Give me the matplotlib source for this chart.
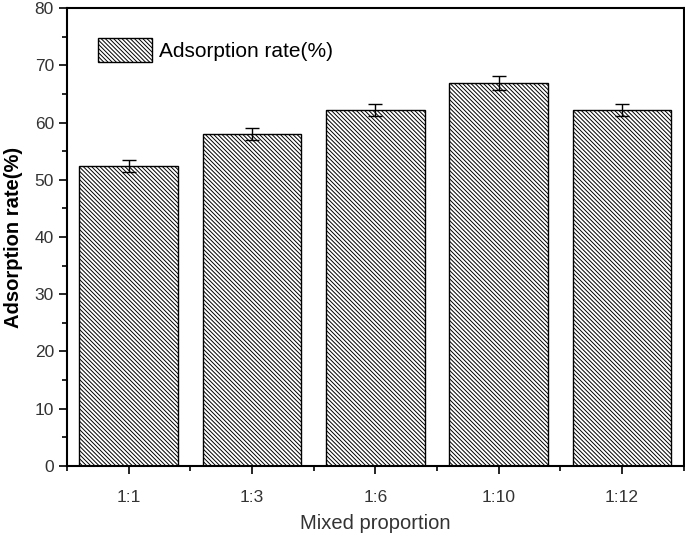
import matplotlib.pyplot as plt
from matplotlib.ticker import MultipleLocator, FixedLocator

plt.rcParams['font.family'] = ['Liberation Sans', 'DejaVu Sans']
plt.rcParams['hatch.linewidth'] = 0.7

categories = ['1:1', '1:3', '1:6', '1:10', '1:12']
rates = [52.4, 58.0, 62.2, 66.9, 62.2]
errors = [1.1, 1.1, 1.1, 1.2, 1.1]

fig = plt.figure(figsize=(6.85, 5.35), dpi=100)
ax = fig.add_axes([0.098, 0.129, 0.9, 0.856])

x = list(range(len(categories)))
ax.bar(x, rates, width=0.8, color='white', edgecolor='black', linewidth=1.0,
       hatch='\\' * 8, label='Adsorption rate(%)')
ax.errorbar(x, rates, yerr=errors, fmt='none', ecolor='black', elinewidth=1.0,
            capsize=5, capthick=1.0)

ax.set_xlim(-0.5, 4.5)
ax.set_ylim(0, 80)
ax.set_xticks(x)
ax.set_xticklabels(categories)
ax.xaxis.set_minor_locator(FixedLocator([i + 0.5 for i in range(-1, 5)]))
ax.yaxis.set_major_locator(MultipleLocator(10))
ax.yaxis.set_minor_locator(MultipleLocator(5))
ax.tick_params(direction='out', length=6, width=1.2, labelsize=12.5,
               labelcolor='#333333', top=False, right=False)
ax.tick_params(axis='x', pad=11)
ax.tick_params(which='minor', direction='out', length=3.5, width=1.2)
for s in ax.spines.values():
    s.set_linewidth(1.5)

ax.set_xlabel('Mixed proportion', fontsize=14.5, color='#333333', labelpad=7)
ax.set_ylabel('Adsorption rate(%)', fontsize=14.5, fontweight='bold', labelpad=8)

ax.legend(loc='upper left', bbox_to_anchor=(0.02, 0.975), frameon=False,
          fontsize=15, handlelength=2.6, handleheight=1.4, handletextpad=0.3)

fig.savefig('out.png', dpi=100)
